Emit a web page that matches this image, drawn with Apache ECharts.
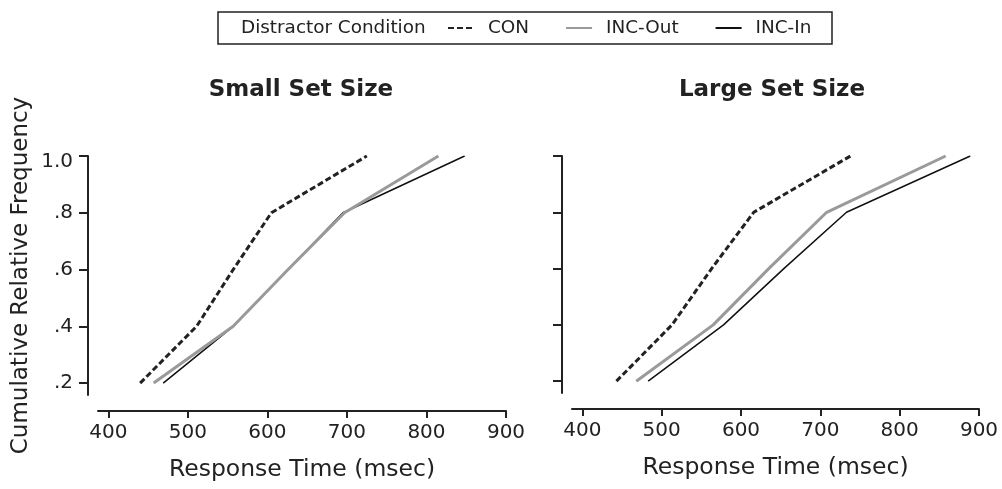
<!DOCTYPE html>
<html>
<head>
<meta charset="utf-8">
<script src="https://cdn.jsdelivr.net/npm/echarts@6/dist/echarts.min.js"></script>
<style>html,body{margin:0;padding:0;background:#fff}#c{width:1002px;height:489px}</style>
</head>
<body>
<div id="c"></div>
<script>
// ---- data ----
const freqLevels = [0.2, 0.4, 0.6, 0.8, 1.0];
const xTicks = [400, 500, 600, 700, 800, 900];
const yTicks = [0.2, 0.4, 0.6, 0.8, 1.0];
const panelTitles = ['Small Set Size', 'Large Set Size'];
const seriesNames = ['CON', 'INC-Out', 'INC-In'];
const smallCON = [440, 511, 557, 605, 725];
const smallOut = [457, 557, 626, 697, 815];
const smallIn  = [469, 557, 626, 695, 848];
const largeCON = [443, 513, 563, 616, 738];
const largeOut = [468, 565, 635, 708, 858];
const largeIn  = [483, 578, 654, 733, 889];

const FONT = 'DejaVu Sans';
const TXT = '#222';
const pairs = (xs) => xs.map((x, i) => [x, freqLevels[i]]);

const styles = {
  'CON':     {color: '#222', width: 3, type: [6, 3]},
  'INC-Out': {color: '#9a9a9a', width: 3, type: 'solid'},
  'INC-In':  {color: '#111', width: 1.5, type: 'solid'}
};

function mkSeries(name, xs, idx) {
  const s = styles[name];
  return {
    type: 'line', name: name, xAxisIndex: idx, yAxisIndex: idx,
    data: pairs(xs), showSymbol: false, symbol: 'none',
    lineStyle: {color: s.color, width: s.width, type: s.type},
    itemStyle: {color: s.color},
    z: name === 'INC-In' ? 2 : 3
  };
}

function mkX(idx) {
  return {
    type: 'value', gridIndex: idx, min: 387, max: 900,
    offset: 16,
    axisLine: {show: true, lineStyle: {color: TXT, width: 2}},
    axisTick: {show: true, customValues: xTicks, length: 7, lineStyle: {color: TXT, width: 2}},
    axisLabel: {customValues: xTicks, color: TXT, fontFamily: FONT, fontSize: 20, margin: 12},
    splitLine: {show: false},
    name: 'Response Time (msec)', nameLocation: 'middle', nameGap: 47,
    nameTextStyle: {color: TXT, fontFamily: FONT, fontSize: 23.5}
  };
}

function mkY(idx, labels) {
  return {
    type: 'value', gridIndex: idx, min: 0.158, max: 1.0,
    offset: 10,
    axisLine: {show: true, lineStyle: {color: TXT, width: 2}},
    axisTick: {show: true, customValues: yTicks, length: 9, lineStyle: {color: TXT, width: 2}},
    axisLabel: {
      show: labels, customValues: yTicks, color: TXT, fontFamily: FONT, fontSize: 20, margin: 15,
      formatter: (v) => Math.abs(v - 1) < 1e-9 ? '{t|1.0}' : '.' + Math.round(v * 10),
      rich: {t: {color: TXT, fontFamily: FONT, fontSize: 20, padding: [11, 0, 0, 0]}}
    },
    splitLine: {show: false},
    name: labels ? 'Cumulative Relative Frequency' : '',
    nameLocation: 'middle', nameGap: 55,
    nameTextStyle: {color: TXT, fontFamily: FONT, fontSize: 23}
  };
}

const chart = echarts.init(document.getElementById('c'), null, {renderer: 'canvas'});
chart.setOption({
  animation: false,
  backgroundColor: '#fff',
  grid: [
    {left: 98, top: 156, width: 408, height: 239},
    {left: 572, top: 156, width: 407, height: 237}
  ],
  xAxis: [mkX(0), mkX(1)],
  yAxis: [mkY(0, true), mkY(1, false)],
  legend: {
    data: seriesNames, left: 447, top: 19, padding: 0,
    itemWidth: 26, itemHeight: 14, itemGap: 36,
    itemStyle: {opacity: 0, borderWidth: 0},
    textStyle: {color: TXT, fontFamily: FONT, fontSize: 18.4, padding: [0, 0, 0, 9]}
  },
  graphic: [
    {type: 'rect', shape: {x: 218, y: 12, width: 614, height: 32},
     style: {fill: 'none', stroke: '#222', lineWidth: 1.5}, silent: true},
    {type: 'text', x: 241, y: 28,
     style: {text: 'Distractor Condition', fill: TXT, font: '18.4px "DejaVu Sans"', textAlign: 'left', textVerticalAlign: 'middle'}},
    {type: 'text', x: 301, y: 90,
     style: {text: panelTitles[0], fill: TXT, font: 'bold 23px "DejaVu Sans"', textAlign: 'center', textVerticalAlign: 'middle'}},
    {type: 'text', x: 772, y: 90,
     style: {text: panelTitles[1], fill: TXT, font: 'bold 23px "DejaVu Sans"', textAlign: 'center', textVerticalAlign: 'middle'}}
  ],
  series: [
    mkSeries('INC-In', smallIn, 0), mkSeries('INC-Out', smallOut, 0), mkSeries('CON', smallCON, 0),
    mkSeries('INC-In', largeIn, 1), mkSeries('INC-Out', largeOut, 1), mkSeries('CON', largeCON, 1)
  ]
});
</script>
</body>
</html>
